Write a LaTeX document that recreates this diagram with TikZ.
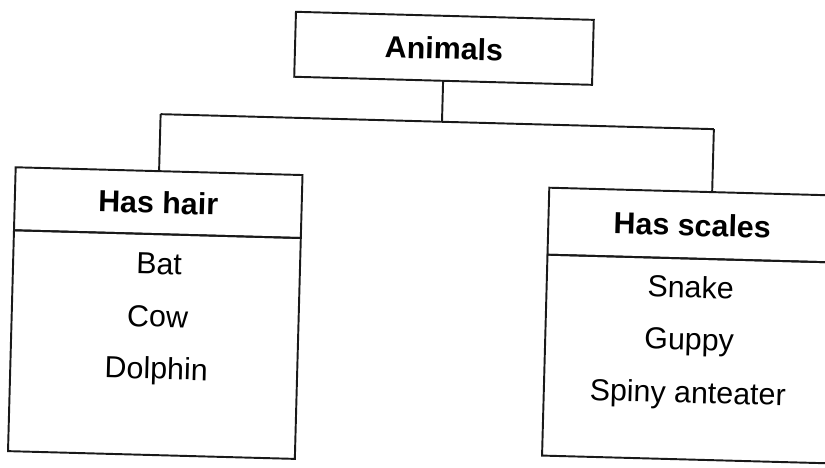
\documentclass[tikz,border=0pt]{standalone}
\usepackage{fontspec}
\setmainfont{Liberation Sans}
\begin{document}
\begin{tikzpicture}[x=0.02cm,y=-0.02cm,
  lines/.style={line width=1.1pt,draw=black!90},
  box/.style={lines,rectangle,inner sep=0pt,outer sep=0pt,font=\fontsize{17.3}{20}\selectfont\bfseries},
  item/.style={anchor=base,inner sep=0pt,font=\fontsize{17.3}{20}\selectfont}]
\useasboundingbox (0,0) rectangle (825,467);
\clip (0,0) rectangle (825,467);
\begin{scope}[rotate around={-1.55:(412,233)},transform shape]
  % top node
  \node[box,minimum width=5.96cm,minimum height=1.3cm] (animals) at (439,47.5) {Animals};
  % left box
  \node[box,minimum width=5.74cm,minimum height=1.26cm] (hairhead) at (157.5,209.5) {Has hair};
  \node[box,minimum width=5.74cm,minimum height=4.42cm] (hairbody) at (157.5,351.5) {};
  \node[item] (bat) at (160,281) {Bat};
  \node[item] (cow) at (160,334) {Cow};
  \node[item] (dolphin) at (160,386) {Dolphin};
  % right box
  \node[box,minimum width=5.76cm,minimum height=1.34cm] (scalehead) at (692,217.5) {Has scales};
  \node[box,minimum width=5.76cm,minimum height=4.02cm] (scalebody) at (692,351.5) {};
  \node[item] (snake) at (692,290.5) {Snake};
  \node[item] (guppy) at (692,342.5) {Guppy};
  \node[item] (spiny) at (692,395.5) {Spiny anteater};
  % connectors
  \coordinate (jl) at (157.5,121);
  \coordinate (jm) at (439,121);
  \coordinate (jr) at (711,121);
  \coordinate (jrb) at (711,184);
  \draw[lines] (animals.south) -- (jm);
  \draw[lines] (jl) -- (jr);
  \draw[lines] (jl) -- (hairhead.north);
  \draw[lines] (jr) -- (jrb);
\end{scope}
\end{tikzpicture}
\end{document}
